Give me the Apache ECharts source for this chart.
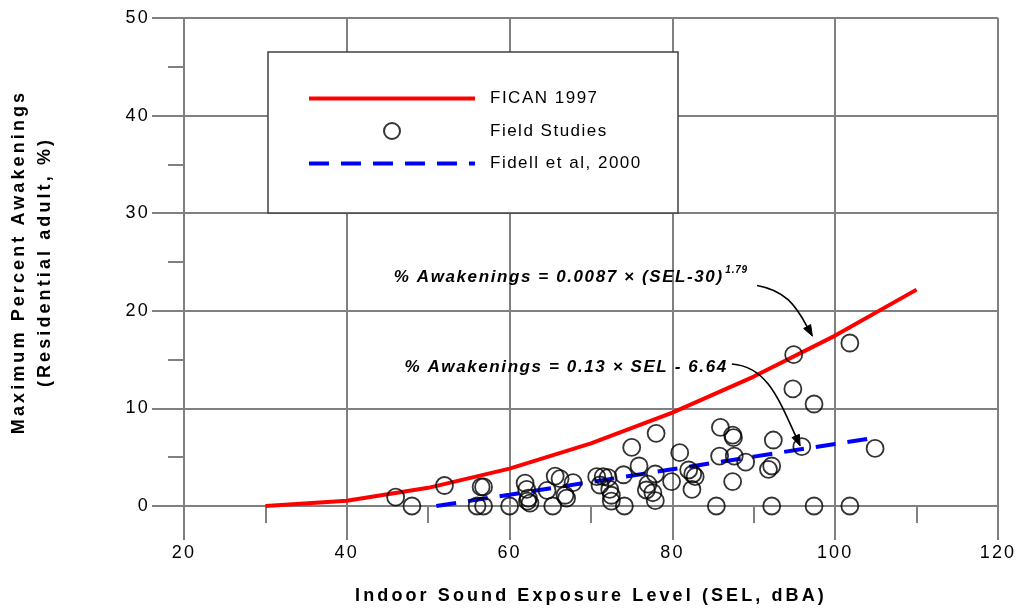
<!DOCTYPE html>
<html><head><meta charset="utf-8">
<script src="https://cdn.jsdelivr.net/npm/echarts@6/dist/echarts.min.js"></script>
<style>html,body{margin:0;padding:0;background:#fff}#c{width:1020px;height:615px}</style>
</head><body><div id="c"></div>
<script>
// ---- data ----
const xTicks = [20, 40, 60, 80, 100, 120];
const yTicks = [0, 10, 20, 30, 40, 50];
const ficanSEL = [30, 40, 50, 60, 70, 80, 90, 100, 110];
const ficanPct = [0, 0.54, 1.86, 3.83, 6.42, 9.57, 13.26, 17.46, 22.17];
const fidellSEL = [51, 60, 70, 80, 90, 100, 105];
const fidellPct = [0.0, 1.16, 2.46, 3.76, 5.06, 6.36, 7.01];
const fieldSEL = [46.0, 48.0, 52.0, 56.0, 56.8, 56.5, 56.8, 60.0,
  61.9, 62.1, 62.3, 62.5, 62.2, 64.6, 65.3, 65.6, 66.2, 66.8, 67.0, 67.8,
  70.7, 71.5, 72.1, 71.1, 72.3, 72.5, 72.5, 74.1, 74.0, 75.0, 75.9, 77.0, 76.8, 77.6, 77.9, 77.9, 78.0, 79.9,
  80.9, 82.0, 82.5, 82.8, 82.4, 85.4, 85.8, 85.9, 87.4, 87.5, 87.6, 87.4, 89.0,
  91.8, 92.2, 92.2, 92.4, 94.8, 94.9, 95.9, 97.4, 97.4, 101.8, 101.8, 104.9];
const fieldPct = [0.9, 0, 2.1, 0, 0, 1.95, 1.95, 0,
  2.35, 1.7, 0.8, 0.3, 0.5, 1.6, 0, 3.07, 2.8, 1.1, 0.8, 2.4,
  3.0, 3.0, 2.9, 2.15, 1.7, 1.1, 0.5, 0, 3.2, 6.0, 4.1, 2.25, 1.64, 1.36, 0.55, 3.28, 7.45, 2.5,
  5.46, 3.69, 3.28, 3.0, 1.7, 0, 5.12, 8.05, 7.27, 7.0, 5.12, 2.5, 4.5,
  3.76, 4.1, 0, 6.76, 12.0, 15.5, 6.08, 10.45, 0, 16.7, 0, 5.9];
const seriesNames = ['FICAN 1997', 'Field Studies', 'Fidell et al, 2000'];
const xTitle = 'Indoor Sound Exposure Level (SEL, dBA)';
const yTitle = 'Maximum Percent Awakenings\n(Residential adult, %)';
const eq1 = '% Awakenings = 0.0087 \u00d7 (SEL-30)';
const eq1sup = '1.79';
const eq2 = '% Awakenings = 0.13 \u00d7 SEL - 6.64';
// annotation anchors in data coordinates
const eq1Anchor = [86.3, 23.45];
const eq1SupAnchor = [86.5, 24.2];
const eq2Anchor = [86.8, 14.25];
const arrow1 = [[90.4, 22.6], [93.8, 22.1], [95.1, 20.6], [97.2, 17.4]];
const arrow2 = [[87.3, 14.55], [91.4, 14.3], [92.85, 11.4], [95.7, 6.15]];

// The reference's text is set with extra tracking; emulate it per font role.
(function () {
  const P = CanvasRenderingContext2D.prototype;
  if (!('letterSpacing' in P)) return;
  const orig = P.fillText;
  P.fillText = function (t, x, y, m) {
    const f = this.font || '';
    const size = parseFloat((f.match(/([\d.]+)px/) || [0, 12])[1]);
    const bold = /bold|700/.test(f), italic = /italic/.test(f);
    let sp = 0;
    if (bold && italic) sp = size > 12 ? 1.6 : 0.8;
    else if (bold) sp = 3.1;
    else if (size >= 17.5) sp = 2.2;
    else if (size >= 16) sp = 1.5;
    const prev = this.letterSpacing;
    this.letterSpacing = sp + 'px';
    const r = m === undefined ? orig.call(this, t, x, y) : orig.call(this, t, x, y, m);
    this.letterSpacing = prev;
    return r;
  };
})();

const zip = (a, b) => a.map((v, i) => [v, b[i]]);
const FONT = '"Liberation Sans", Arial, sans-serif';
const GRAY = '#808080';

const chart = echarts.init(document.getElementById('c'), null, {renderer: 'canvas'});
chart.setOption({
  animation: false,
  backgroundColor: '#fff',
  grid: {left: 184, right: 22, top: 18, bottom: 109, containLabel: false, outerBoundsMode: 'none'},
  xAxis: {
    type: 'value', min: xTicks[0], max: xTicks[xTicks.length - 1], interval: 20,
    name: xTitle, nameLocation: 'middle', nameGap: 81,
    nameTextStyle: {fontFamily: FONT, fontSize: 18, fontWeight: 'bold', color: '#000'},
    axisLine: {show: true, lineStyle: {color: GRAY, width: 2}},
    axisTick: {show: true, inside: false, length: 34, lineStyle: {color: GRAY, width: 2}},
    minorTick: {show: true, splitNumber: 2, length: 17, lineStyle: {color: GRAY, width: 2}},
    splitLine: {show: true, lineStyle: {color: GRAY, width: 2}},
    axisLabel: {margin: 38, fontFamily: FONT, fontSize: 18, color: '#000'}
  },
  yAxis: {
    type: 'value', min: yTicks[0], max: yTicks[yTicks.length - 1], interval: 10,
    name: yTitle, nameLocation: 'middle', nameGap: 126, nameRotate: 90,
    nameTextStyle: {fontFamily: FONT, fontSize: 18, fontWeight: 'bold', color: '#000', lineHeight: 26, align: 'center'},
    axisLine: {show: true, lineStyle: {color: GRAY, width: 2}},
    axisTick: {show: true, inside: false, length: 32, lineStyle: {color: GRAY, width: 2}},
    minorTick: {show: true, splitNumber: 2, length: 16, lineStyle: {color: GRAY, width: 2}},
    splitLine: {show: true, lineStyle: {color: GRAY, width: 2}},
    axisLabel: {margin: 34, fontFamily: FONT, fontSize: 18, color: '#000'}
  },
  legend: {
    show: true, orient: 'vertical', left: 307, top: 90, z: 10,
    itemWidth: 166, itemHeight: 16, itemGap: 15, padding: 0,
    lineStyle: {width: 4},
    data: [
      {name: seriesNames[0], itemStyle: {opacity: 0}},
      {name: seriesNames[1]},
      {name: seriesNames[2], itemStyle: {opacity: 0}}
    ],
    textStyle: {fontFamily: FONT, fontSize: 17, color: '#000', padding: [0, 0, 0, 10]}
  },
  series: [
    {name: seriesNames[0], type: 'line', data: zip(ficanSEL, ficanPct), symbol: 'none',
     lineStyle: {color: '#ff0000', width: 4}, itemStyle: {color: '#ff0000'}, z: 3},
    {name: seriesNames[1], type: 'scatter', data: zip(fieldSEL, fieldPct), symbol: 'circle', symbolSize: 17,
     itemStyle: {color: 'rgba(0,0,0,0)', borderColor: '#000', borderWidth: 1.8}, z: 4},
    {name: seriesNames[2], type: 'line', data: zip(fidellSEL, fidellPct), symbol: 'none',
     lineStyle: {color: '#0000ff', width: 4, type: [20, 12]}, itemStyle: {color: '#0000ff'}, z: 3}
  ]
});

const px = d => chart.convertToPixel({gridIndex: 0}, d);
function arrowEls(pts) {
  const p = pts.map(px);
  const tip = p[3], c2 = p[2];
  const dx = tip[0] - c2[0], dy = tip[1] - c2[1];
  const L = Math.hypot(dx, dy), ux = dx / L, uy = dy / L;
  const hl = 11, hw = 4;
  const bx = tip[0] - ux * hl, by = tip[1] - uy * hl;
  return [
    {type: 'bezierCurve', z: 20, silent: true,
     shape: {x1: p[0][0], y1: p[0][1], cpx1: p[1][0], cpy1: p[1][1], cpx2: p[2][0], cpy2: p[2][1], x2: bx, y2: by},
     style: {stroke: '#000', lineWidth: 1.6, fill: null}},
    {type: 'polygon', z: 20, silent: true,
     shape: {points: [tip, [bx - uy * hw, by + ux * hw], [bx + uy * hw, by - ux * hw]]},
     style: {fill: '#000', stroke: '#000', lineWidth: 1}}
  ];
}
const a1 = px(eq1Anchor), s1 = px(eq1SupAnchor), a2 = px(eq2Anchor);
const EQFONT = 'italic bold 17px ' + FONT;
chart.setOption({
  graphic: {elements: [
    {type: 'rect', z: 5, silent: true, shape: {x: 268, y: 52, width: 410, height: 161},
     style: {fill: '#fff', stroke: '#404040', lineWidth: 1.5}},
    {type: 'text', z: 20, silent: true, x: a1[0], y: a1[1],
     style: {text: eq1, align: 'right', verticalAlign: 'middle', font: EQFONT, fill: '#000'}},
    {type: 'text', z: 20, silent: true, x: s1[0], y: s1[1],
     style: {text: eq1sup, align: 'left', verticalAlign: 'middle', font: 'italic bold 10px ' + FONT, fill: '#000'}},
    {type: 'text', z: 20, silent: true, x: a2[0], y: a2[1],
     style: {text: eq2, align: 'right', verticalAlign: 'middle', font: EQFONT, fill: '#000'}},
    ...arrowEls(arrow1), ...arrowEls(arrow2)
  ]}
});
</script></body></html>
